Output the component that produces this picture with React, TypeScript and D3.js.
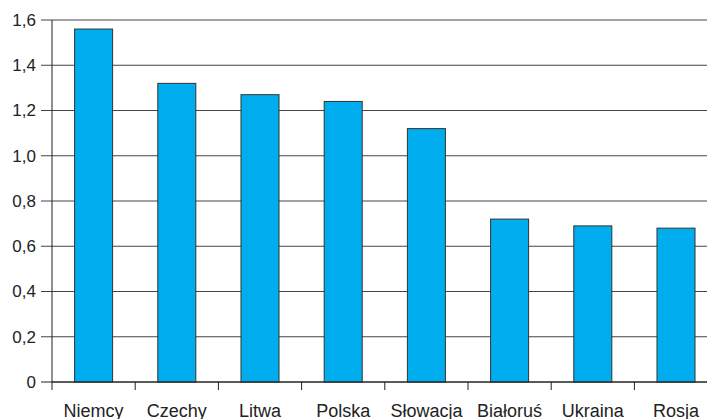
import React from "react";
import * as d3 from "d3";

const categories = ["Niemcy", "Czechy", "Litwa", "Polska", "Słowacja", "Białoruś", "Ukraina", "Rosja"];
const values = [1.56, 1.32, 1.27, 1.24, 1.12, 0.72, 0.69, 0.68];
const yTicks = [0, 0.2, 0.4, 0.6, 0.8, 1.0, 1.2, 1.4, 1.6];
const yTickLabels = ["0", "0,2", "0,4", "0,6", "0,8", "1,0", "1,2", "1,4", "1,6"];

export default function App() {
  const W = 707, H = 419;
  const left = 52, right = 717.6, top = 20, bottom = 382;
  const x = d3.scaleBand<string>().domain(categories).range([left, right]).paddingInner(0.543).paddingOuter(0.2715);
  const y = d3.scaleLinear().domain([0, 1.6]).range([bottom, top]);
  const step = x.step();
  const font = "'Liberation Sans', Arial, sans-serif";
  return (
    <svg width={W} height={H} style={{ position: "absolute", left: 0, top: 0, background: "#fff" }}>
      {yTicks.map((t, i) => (
        <g key={i}>
          <line x1={41} x2={right} y1={y(t)} y2={y(t)} stroke={i === 0 ? "#222" : "#444"} strokeWidth={1} />
          <text x={36} y={y(t)} dy="0.35em" textAnchor="end" fontFamily={font} fontSize={17} fill="#222">{yTickLabels[i]}</text>
        </g>
      ))}
      {values.map((v, i) => (
        <rect key={i} x={x(categories[i])!} y={y(v)} width={x.bandwidth()} height={bottom - y(v)} fill="#00AEEF" stroke="#333" strokeWidth={1} />
      ))}
      <line x1={left} x2={left} y1={top} y2={bottom} stroke="#222" strokeWidth={1} />
      <line x1={left} x2={right} y1={bottom} y2={bottom} stroke="#222" strokeWidth={1} />
      {d3.range(categories.length + 1).map((i) => (
        <line key={i} x1={left + i * step} x2={left + i * step} y1={bottom} y2={bottom + 8} stroke="#222" strokeWidth={1} />
      ))}
      {categories.map((c, i) => (
        <text key={c} x={x(c)! + x.bandwidth() / 2} y={416.5} textAnchor="middle" fontFamily={font} fontSize={18} fill="#222">{c}</text>
      ))}
    </svg>
  );
}
